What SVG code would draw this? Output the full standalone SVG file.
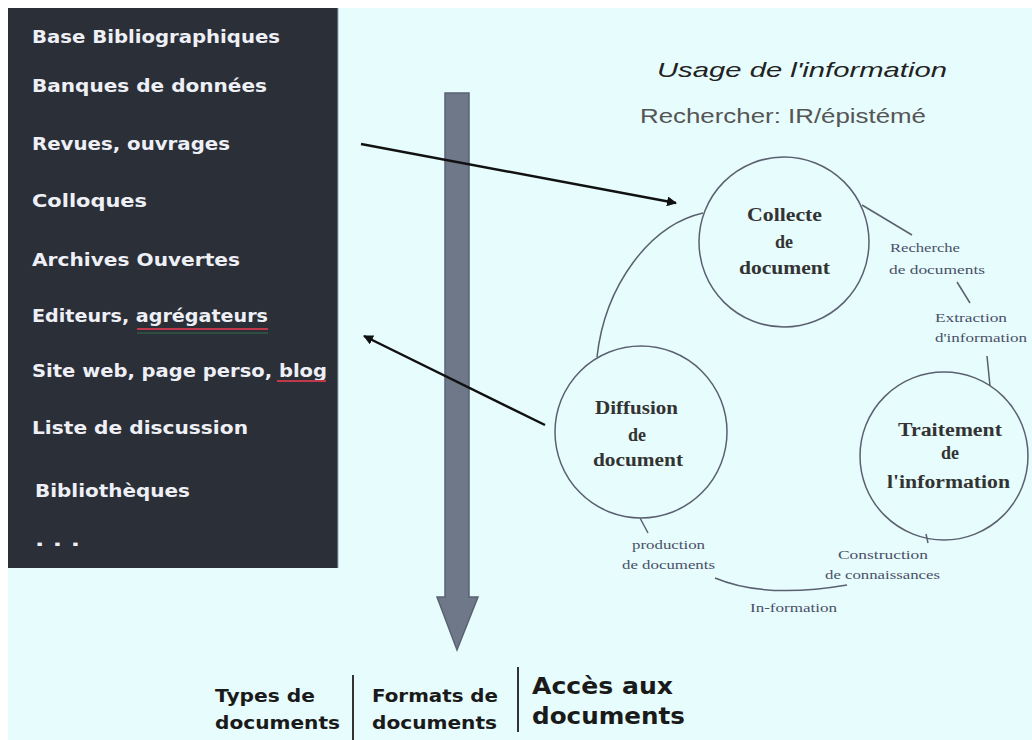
<svg xmlns="http://www.w3.org/2000/svg" width="1032" height="740" viewBox="0 0 1032 740">
<defs>
<style>
.panel-t{font-family:"DejaVu Sans",Verdana,sans-serif;font-weight:bold;font-size:17px;fill:#eef0f6}
.bot{font-family:"DejaVu Sans",Verdana,sans-serif;font-weight:bold;font-size:17px;fill:#1a1a1a}
.big{font-size:23px}
.node-t{font-family:"Liberation Serif","Times New Roman",serif;font-weight:bold;font-size:18px;fill:#333}
.small{font-family:"Liberation Serif","Times New Roman",serif;font-size:12px;fill:#4a5068}
.circle{fill:none;stroke:#5a6070;stroke-width:1.5}
.link{fill:none;stroke:#5a6070;stroke-width:1.5}
.arrow{stroke:#111;stroke-width:2.5;fill:none}
.sep{stroke:#333;stroke-width:2}
</style>
<marker id="ah" viewBox="0 0 10 10" refX="9" refY="5" markerWidth="4" markerHeight="4" orient="auto" markerUnits="strokeWidth">
<path d="M0,0 L10,5 L0,10 z" fill="#111"/>
</marker>
</defs>
<rect x="0" y="0" width="1032" height="740" fill="#ffffff"/>
<rect x="8" y="8" width="1024" height="732" fill="#e7fcfc"/>

<g id="sources">
<rect x="8" y="8" width="330" height="560" fill="#2b2f38"/>
<line x1="338" y1="8" x2="338" y2="568" stroke="#9ab" stroke-width="1"/>
<text class="panel-t" x="32" y="43" textLength="248" lengthAdjust="spacingAndGlyphs">Base Bibliographiques</text>
<text class="panel-t" x="32" y="92" textLength="235" lengthAdjust="spacingAndGlyphs">Banques de données</text>
<text class="panel-t" x="32" y="150" textLength="198" lengthAdjust="spacingAndGlyphs">Revues, ouvrages</text>
<text class="panel-t" x="32" y="207" textLength="115" lengthAdjust="spacingAndGlyphs">Colloques</text>
<text class="panel-t" x="32" y="266" textLength="208" lengthAdjust="spacingAndGlyphs">Archives Ouvertes</text>
<text class="panel-t" x="32" y="322" textLength="236" lengthAdjust="spacingAndGlyphs">Editeurs, agrégateurs</text>
<path d="M137,329 L268,329" stroke="#c0394a" stroke-width="2"/>
<path d="M137,333 L268,333" stroke="#2f5a45" stroke-width="1.5"/>
<text class="panel-t" x="32" y="377" textLength="295" lengthAdjust="spacingAndGlyphs">Site web, page perso, blog</text>
<path d="M277,381 L326,381" stroke="#c0394a" stroke-width="2"/>
<text class="panel-t" x="32" y="434" textLength="216" lengthAdjust="spacingAndGlyphs">Liste de discussion</text>
<text class="panel-t" x="35" y="497" textLength="155" lengthAdjust="spacingAndGlyphs">Bibliothèques</text>
<text class="panel-t" x="35" y="546" textLength="45" lengthAdjust="spacingAndGlyphs">. . .</text>
</g>

<g id="access-arrow">
<path d="M445,93 L469,93 L469,597 L478,597 L457,650 L437,597 L445,597 Z" fill="#6f7888" stroke="#5a6272" stroke-width="1.5"/>
</g>

<g id="title">
<text x="657" y="77" font-family="Liberation Sans, Arial, sans-serif" font-style="italic" font-size="21" fill="#222" textLength="290" lengthAdjust="spacingAndGlyphs">Usage de l'information</text>
<text x="640" y="123" font-family="Liberation Sans, Arial, sans-serif" font-size="20" fill="#555" textLength="286" lengthAdjust="spacingAndGlyphs">Rechercher: IR/épistémé</text>
</g>

<g id="collecte">
<circle class="circle" cx="784" cy="242" r="85"/>
<text class="node-t" x="747" y="221" textLength="75" lengthAdjust="spacingAndGlyphs">Collecte</text>
<text class="node-t" x="784" y="248" text-anchor="middle">de</text>
<text class="node-t" x="739" y="274" textLength="91" lengthAdjust="spacingAndGlyphs">document</text>
</g>

<g id="diffusion">
<circle class="circle" cx="641" cy="432" r="86"/>
<text class="node-t" x="595" y="414" textLength="83" lengthAdjust="spacingAndGlyphs">Diffusion</text>
<text class="node-t" x="637" y="441" text-anchor="middle">de</text>
<text class="node-t" x="593" y="466" textLength="90" lengthAdjust="spacingAndGlyphs">document</text>
</g>

<g id="traitement">
<circle class="circle" cx="944" cy="456" r="84"/>
<text class="node-t" x="898" y="436" textLength="104" lengthAdjust="spacingAndGlyphs">Traitement</text>
<text class="node-t" x="950" y="459" text-anchor="middle">de</text>
<text class="node-t" x="887" y="488" textLength="123" lengthAdjust="spacingAndGlyphs">l'information</text>
</g>

<g id="connectors">
<line class="arrow" x1="361" y1="144" x2="676" y2="203" marker-end="url(#ah)"/>
<line class="arrow" x1="545" y1="425" x2="364" y2="336" marker-end="url(#ah)"/>
<path class="link" d="M703,213 C650,225 605,285 597,357"/>
<line class="link" x1="862" y1="205" x2="912" y2="235"/>
<line class="link" x1="957" y1="282" x2="970" y2="303"/>
<line class="link" x1="987" y1="356" x2="990" y2="386"/>
<line class="link" x1="640" y1="518" x2="648" y2="533"/>
<path class="link" d="M715,578 Q765,599 847,585"/>
<line class="link" x1="926" y1="534" x2="928" y2="543"/>
</g>

<g id="labels">
<text class="small" x="890" y="252" textLength="70" lengthAdjust="spacingAndGlyphs">Recherche</text>
<text class="small" x="889" y="274" textLength="96" lengthAdjust="spacingAndGlyphs">de documents</text>
<text class="small" x="935" y="322" textLength="72" lengthAdjust="spacingAndGlyphs">Extraction</text>
<text class="small" x="935" y="342" textLength="92" lengthAdjust="spacingAndGlyphs">d'information</text>
<text class="small" x="632" y="549" textLength="73" lengthAdjust="spacingAndGlyphs">production</text>
<text class="small" x="622" y="569" textLength="93" lengthAdjust="spacingAndGlyphs">de documents</text>
<text class="small" x="838" y="559" textLength="90" lengthAdjust="spacingAndGlyphs">Construction</text>
<text class="small" x="825" y="579" textLength="115" lengthAdjust="spacingAndGlyphs">de connaissances</text>
<text class="small" x="750" y="612" textLength="87" lengthAdjust="spacingAndGlyphs">In-formation</text>
</g>

<g id="bottom">
<text class="bot" x="215" y="702" textLength="100" lengthAdjust="spacingAndGlyphs">Types de</text>
<text class="bot" x="215" y="729" textLength="125" lengthAdjust="spacingAndGlyphs">documents</text>
<line class="sep" x1="353" y1="675" x2="353" y2="740"/>
<text class="bot" x="372" y="702" textLength="126" lengthAdjust="spacingAndGlyphs">Formats de</text>
<text class="bot" x="372" y="729" textLength="125" lengthAdjust="spacingAndGlyphs">documents</text>
<line class="sep" x1="518" y1="667" x2="518" y2="732"/>
<text class="bot big" x="532" y="694" textLength="141" lengthAdjust="spacingAndGlyphs">Accès aux</text>
<text class="bot big" x="532" y="724" textLength="153" lengthAdjust="spacingAndGlyphs">documents</text>
</g>
</svg>
